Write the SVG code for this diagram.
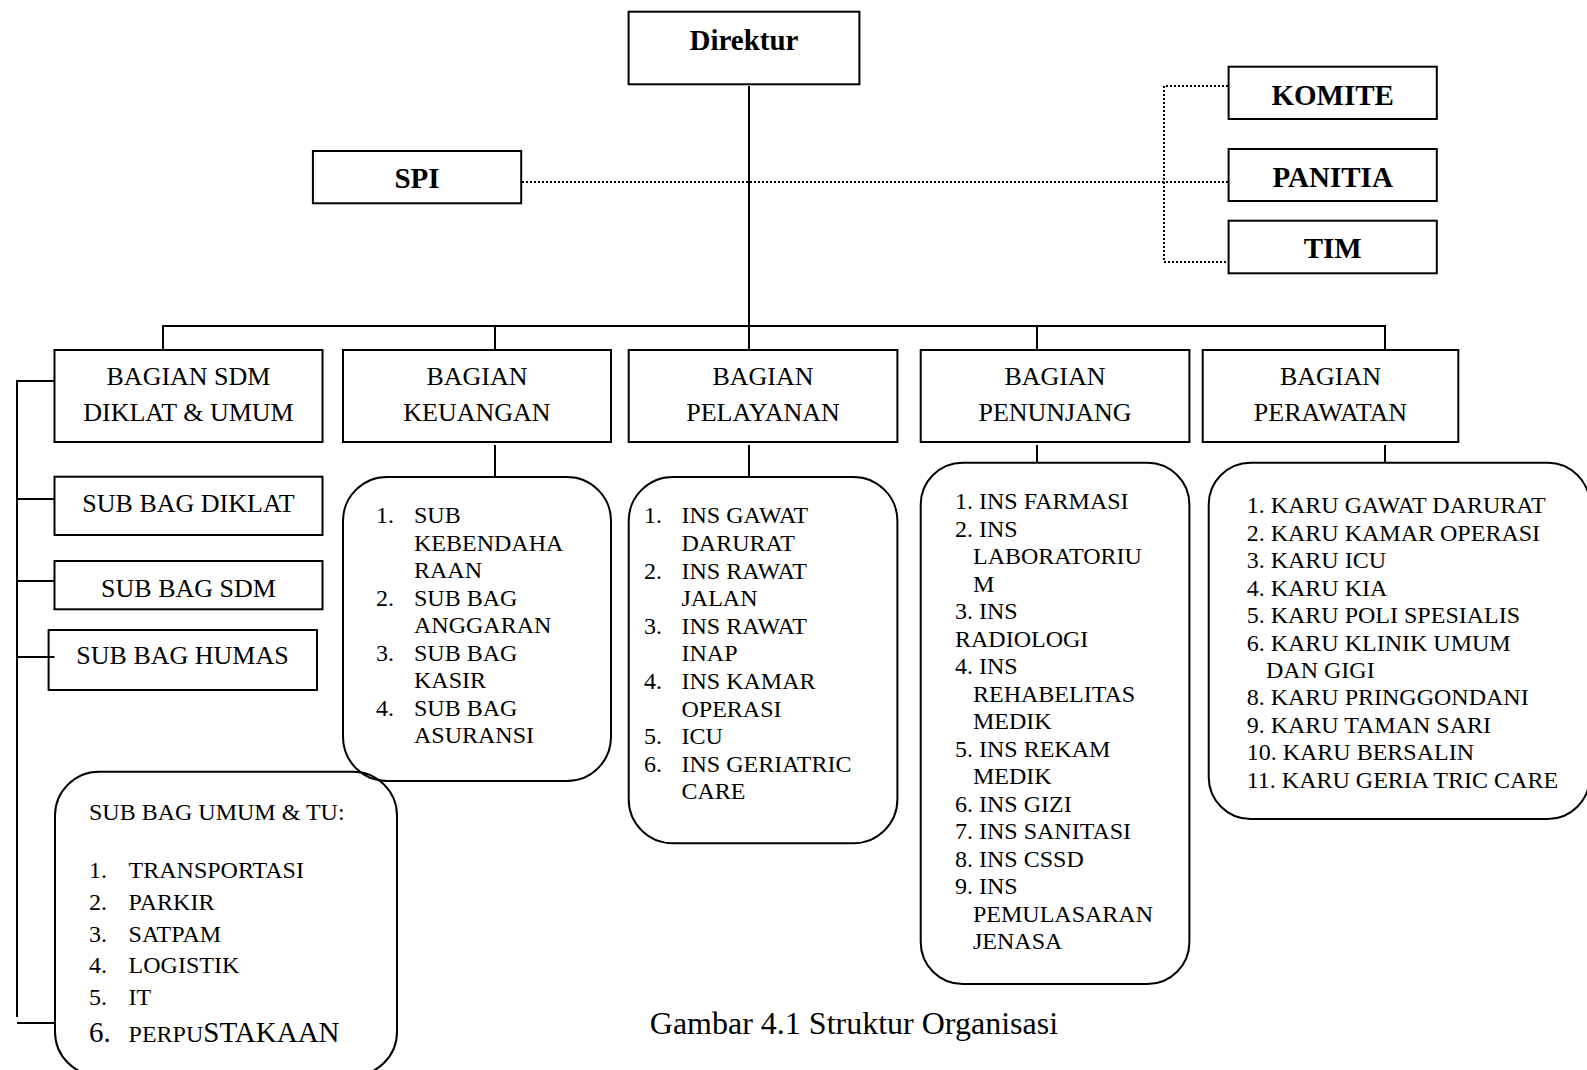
<svg xmlns="http://www.w3.org/2000/svg" width="1587" height="1070" viewBox="0 0 1587 1070">
<style>
text{font-family:"Liberation Serif","Times New Roman",serif;fill:#000}
.box{fill:none;stroke:#000;stroke-width:2}
.rbox{fill:none;stroke:#000;stroke-width:2}
.ln{fill:none;stroke:#000;stroke-width:2}
.dot{fill:none;stroke:#000;stroke-width:2;stroke-dasharray:2 2}
.b{font-weight:bold;font-size:29px;text-anchor:middle}
.h{font-size:26px;text-anchor:middle}
.l{font-size:24px}
.cap{font-size:32px}
</style>
<rect width="1587" height="1070" fill="#fff"/>
<g id="connectors">
<line class="ln" x1="749" y1="86" x2="749" y2="350"/>
<line class="ln" x1="162" y1="326" x2="1385" y2="326"/>
<line class="ln" x1="163" y1="325" x2="163" y2="350"/>
<line class="ln" x1="495" y1="325" x2="495" y2="350"/>
<line class="ln" x1="1037" y1="325" x2="1037" y2="350"/>
<line class="ln" x1="1385" y1="325" x2="1385" y2="350"/>
<line class="dot" x1="522" y1="182" x2="1228" y2="182"/>
<polyline class="dot" points="1228,86 1164,86 1164,262 1228,262"/>
<line class="ln" x1="495" y1="445" x2="495" y2="477"/>
<line class="ln" x1="749" y1="445" x2="749" y2="477"/>
<line class="ln" x1="1037" y1="445" x2="1037" y2="463"/>
<line class="ln" x1="1385" y1="445" x2="1385" y2="463"/>
<line class="ln" x1="17" y1="381" x2="17" y2="1017"/>
<line class="ln" x1="16" y1="381" x2="54.5" y2="381"/>
<line class="ln" x1="17" y1="499" x2="54.5" y2="499"/>
<line class="ln" x1="17" y1="581" x2="54.5" y2="581"/>
<line class="ln" x1="17" y1="657" x2="54.5" y2="657"/>
<line class="ln" x1="17" y1="1023" x2="55" y2="1023"/>
</g>
<g id="direktur">
<rect class="box" x="628.6" y="11.7" width="230.8" height="72.6"/>
<text class="b" x="744" y="50">Direktur</text>
</g>
<g id="spi">
<rect class="box" x="312.9" y="151" width="208.3" height="52.3"/>
<text class="b" x="417" y="188.3">SPI</text>
</g>
<g id="komite">
<rect class="box" x="1228.6" y="66.7" width="208.2" height="52.3"/>
<text class="b" x="1332.7" y="105">KOMITE</text>
</g>
<g id="panitia">
<rect class="box" x="1228.6" y="149" width="208.2" height="52"/>
<text class="b" x="1332.7" y="186.7">PANITIA</text>
</g>
<g id="tim">
<rect class="box" x="1228.6" y="220.7" width="208.2" height="52.6"/>
<text class="b" x="1332.7" y="258.3">TIM</text>
</g>
<g id="bagian-sdm">
<rect class="box" x="54.5" y="350" width="268" height="92"/>
<text class="h" x="188.5" y="385">BAGIAN SDM</text>
<text class="h" x="188.5" y="420.7">DIKLAT &amp; UMUM</text>
</g>
<g id="bagian-keuangan">
<rect class="box" x="343" y="350" width="268" height="92"/>
<text class="h" x="477" y="385">BAGIAN</text>
<text class="h" x="477" y="420.7">KEUANGAN</text>
</g>
<g id="bagian-pelayanan">
<rect class="box" x="628.7" y="350" width="268.7" height="92"/>
<text class="h" x="763" y="385">BAGIAN</text>
<text class="h" x="763" y="420.7">PELAYANAN</text>
</g>
<g id="bagian-penunjang">
<rect class="box" x="920.7" y="350" width="268.7" height="92"/>
<text class="h" x="1055" y="385">BAGIAN</text>
<text class="h" x="1055" y="420.7">PENUNJANG</text>
</g>
<g id="bagian-perawatan">
<rect class="box" x="1202.7" y="350" width="255.6" height="92"/>
<text class="h" x="1330.5" y="385">BAGIAN</text>
<text class="h" x="1330.5" y="420.7">PERAWATAN</text>
</g>
<g id="sub-bag-diklat">
<rect class="box" x="54.5" y="476.7" width="268" height="58.3"/>
<text class="h" x="188.5" y="511.7">SUB BAG DIKLAT</text>
</g>
<g id="sub-bag-sdm">
<rect class="box" x="54.5" y="561" width="268" height="48.3"/>
<text class="h" x="188.5" y="596.7">SUB BAG SDM</text>
</g>
<g id="sub-bag-humas">
<rect class="box" x="48.6" y="630" width="268.4" height="60"/>
<text class="h" x="182.5" y="664.3">SUB BAG HUMAS</text>
</g>
<g id="keuangan-list">
<rect class="rbox" x="343" y="477" width="268" height="304" rx="44" ry="44"/>
<g class="l">
<text x="376" y="523.3">1.</text><text x="414" y="523.3">SUB</text>
<text x="414" y="550.8">KEBENDAHA</text>
<text x="414" y="578.3">RAAN</text>
<text x="376" y="605.8">2.</text><text x="414" y="605.8">SUB BAG</text>
<text x="414" y="633.3">ANGGARAN</text>
<text x="376" y="660.8">3.</text><text x="414" y="660.8">SUB BAG</text>
<text x="414" y="688.3">KASIR</text>
<text x="376" y="715.8">4.</text><text x="414" y="715.8">SUB BAG</text>
<text x="414" y="743.3">ASURANSI</text>
</g>
</g>
<g id="pelayanan-list">
<rect class="rbox" x="628.7" y="477" width="268.7" height="366.3" rx="44" ry="44"/>
<g class="l">
<text x="644" y="523.3">1.</text><text x="681.5" y="523.3">INS GAWAT</text>
<text x="681.5" y="550.9">DARURAT</text>
<text x="644" y="578.5">2.</text><text x="681.5" y="578.5">INS RAWAT</text>
<text x="681.5" y="606.1">JALAN</text>
<text x="644" y="633.7">3.</text><text x="681.5" y="633.7">INS RAWAT</text>
<text x="681.5" y="661.3">INAP</text>
<text x="644" y="688.9">4.</text><text x="681.5" y="688.9">INS KAMAR</text>
<text x="681.5" y="716.5">OPERASI</text>
<text x="644" y="744.1">5.</text><text x="681.5" y="744.1">ICU</text>
<text x="644" y="771.7">6.</text><text x="681.5" y="771.7">INS GERIATRIC</text>
<text x="681.5" y="799.3">CARE</text>
</g>
</g>
<g id="penunjang-list">
<rect class="rbox" x="920.7" y="462.7" width="268.7" height="521.3" rx="42" ry="42"/>
<g class="l">
<text x="955" y="509">1. INS FARMASI</text>
<text x="955" y="536.5">2. INS</text>
<text x="973" y="564">LABORATORIU</text>
<text x="973" y="591.5">M</text>
<text x="955" y="619">3. INS</text>
<text x="955" y="646.5">RADIOLOGI</text>
<text x="955" y="674">4. INS</text>
<text x="973" y="701.5">REHABELITAS</text>
<text x="973" y="729">MEDIK</text>
<text x="955" y="756.5">5. INS REKAM</text>
<text x="973" y="784">MEDIK</text>
<text x="955" y="811.5">6. INS GIZI</text>
<text x="955" y="839">7. INS SANITASI</text>
<text x="955" y="866.5">8. INS CSSD</text>
<text x="955" y="894">9. INS</text>
<text x="973" y="921.5">PEMULASARAN</text>
<text x="973" y="949">JENASA</text>
</g>
</g>
<g id="perawatan-list">
<rect class="rbox" x="1208.7" y="462.7" width="381" height="356.3" rx="42" ry="42"/>
<g class="l">
<text x="1246.7" y="513.3">1. KARU GAWAT DARURAT</text>
<text x="1246.7" y="540.7">2. KARU KAMAR OPERASI</text>
<text x="1246.7" y="568.2">3. KARU ICU</text>
<text x="1246.7" y="595.6">4. KARU KIA</text>
<text x="1246.7" y="623">5. KARU POLI SPESIALIS</text>
<text x="1246.7" y="650.5">6. KARU KLINIK UMUM</text>
<text x="1266" y="677.9">DAN GIGI</text>
<text x="1246.7" y="705.4">8. KARU PRINGGONDANI</text>
<text x="1246.7" y="732.8">9. KARU TAMAN SARI</text>
<text x="1246.7" y="760.3">10. KARU BERSALIN</text>
<text x="1246.7" y="787.7">11. KARU GERIA TRIC CARE</text>
</g>
</g>
<g id="sub-bag-umum">
<rect class="rbox" x="55" y="771.7" width="342" height="304" rx="44" ry="44"/>
<g class="l">
<text x="89" y="820">SUB BAG UMUM &amp; TU:</text>
<text x="89" y="878.3">1.</text><text x="128.6" y="878.3">TRANSPORTASI</text>
<text x="89" y="909.8">2.</text><text x="128.6" y="909.8">PARKIR</text>
<text x="89" y="941.5">3.</text><text x="128.6" y="941.5">SATPAM</text>
<text x="89" y="972.8">4.</text><text x="128.6" y="972.8">LOGISTIK</text>
<text x="89" y="1005">5.</text><text x="128.6" y="1005">IT</text>
<text x="89" y="1041.7" font-size="29">6.</text><text x="128.6" y="1041.7">PERPU<tspan font-size="29">STAKAAN</tspan></text>
</g>
</g>
<g id="caption">
<text class="cap" x="649.8" y="1034.3">Gambar 4.1 Struktur Organisasi</text>
</g>
</svg>
